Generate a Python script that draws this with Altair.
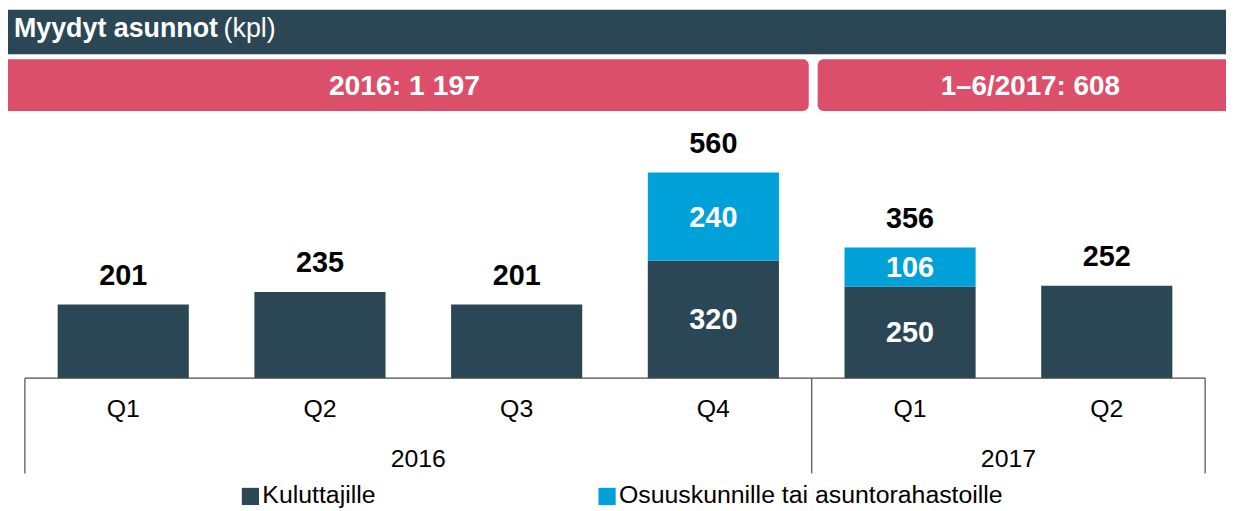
import altair as alt
import pandas as pd

# ---- data ----
quarters = ["Q1", "Q2", "Q3", "Q4", "Q1", "Q2"]
years = ["2016", "2016", "2016", "2016", "2017", "2017"]
kuluttajille = [201, 235, 201, 320, 250, 252]
osuuskunnille = [0, 0, 0, 240, 106, 0]
series_names = ["Kuluttajille", "Osuuskunnille tai asuntorahastoille"]
year_groups = ["2016", "2017"]
year_bounds = [0, 4, 6]
title_bold = "Myydyt asunnot"
title_unit = "(kpl)"
banner_texts = ["2016: 1 197", "1–6/2017: 608"]

DARK = "#2b4756"
CYAN = "#00a0d9"
PINK = "#dc4f6b"
FONT = "Liberation Sans"

W, H = 1226, 503

# ---- tables ----
rows = []
for i, (k, o) in enumerate(zip(kuluttajille, osuuskunnille)):
    rows.append({"i0": i + 1 / 6, "i1": i + 5 / 6, "ic": i + 0.5,
                 "series": series_names[0], "start": 0, "end": k,
                 "val": k, "mid": k / 2, "stacked": o > 0})
    if o > 0:
        rows.append({"i0": i + 1 / 6, "i1": i + 5 / 6, "ic": i + 0.5,
                     "series": series_names[1], "start": k, "end": k + o,
                     "val": o, "mid": k + o / 2, "stacked": True})
seg = pd.DataFrame(rows)

tot = pd.DataFrame({
    "ic": [i + 0.5 for i in range(len(quarters))],
    "total": [k + o for k, o in zip(kuluttajille, osuuskunnille)],
    "q": quarters,
})

yrs = pd.DataFrame({
    "year": year_groups,
    "xc": [(year_bounds[j] + year_bounds[j + 1]) / 2 for j in range(len(year_groups))],
})
bounds = pd.DataFrame({"b": year_bounds, "zero": [0] * len(year_bounds)})
axis_df = pd.DataFrame({"a": [year_bounds[0]], "b": [year_bounds[-1]], "zero": [0]})

xs = alt.Scale(domain=[0, 6], range=[17, 1205])
ys = alt.Scale(domain=[0, 560], range=[371, 164])
cs = alt.Scale(domain=series_names, range=[DARK, CYAN])

one = pd.DataFrame({"d": [0]})

title_bar = alt.Chart(one).mark_rect(color=DARK).encode(
    x=alt.value(0), x2=alt.value(W), y=alt.value(0), y2=alt.value(45))
title1 = alt.Chart(one).mark_text(
    text=title_bold, font=FONT, fontSize=27, fontWeight="bold", color="white",
    align="left", baseline="alphabetic").encode(x=alt.value(6), y=alt.value(28))
title2 = alt.Chart(one).mark_text(
    text=title_unit, font=FONT, fontSize=27, color="white",
    align="left", baseline="alphabetic").encode(x=alt.value(217), y=alt.value(28))

ban1 = alt.Chart(one).mark_rect(color=PINK, cornerRadius=6).encode(
    x=alt.value(-10), x2=alt.value(806), y=alt.value(50), y2=alt.value(102))
ban2 = alt.Chart(one).mark_rect(color=PINK, cornerRadius=6).encode(
    x=alt.value(815), x2=alt.value(W + 10), y=alt.value(50), y2=alt.value(102))
bt1 = alt.Chart(one).mark_text(
    text=banner_texts[0], font=FONT, fontSize=28.5, fontWeight="bold", color="white",
    align="center", baseline="alphabetic").encode(x=alt.value(399), y=alt.value(86))
bt2 = alt.Chart(one).mark_text(
    text=banner_texts[1], font=FONT, fontSize=28, fontWeight="bold", color="white",
    align="center", baseline="alphabetic").encode(x=alt.value(1029), y=alt.value(86))

bars = alt.Chart(seg).mark_rect().encode(
    x=alt.X("i0:Q", scale=xs, axis=None), x2="i1:Q",
    y=alt.Y("start:Q", scale=ys, axis=None), y2="end:Q",
    color=alt.Color("series:N", scale=cs, legend=None))

seg_labels = alt.Chart(seg).transform_filter("datum.stacked").mark_text(
    font=FONT, fontSize=29, fontWeight="bold", color="white",
    align="center", baseline="middle", dy=1).encode(
    x=alt.X("ic:Q", scale=xs), y=alt.Y("mid:Q", scale=ys), text="val:Q")

tot_labels = alt.Chart(tot).mark_text(
    font=FONT, fontSize=29, fontWeight="bold", color="black",
    align="center", baseline="alphabetic", dy=-20).encode(
    x=alt.X("ic:Q", scale=xs), y=alt.Y("total:Q", scale=ys), text="total:Q")

axis_line = alt.Chart(axis_df).mark_rule(color="#4d4d4d", strokeWidth=1.2).encode(
    x=alt.X("a:Q", scale=xs), x2="b:Q", y=alt.Y("zero:Q", scale=ys))
vlines = alt.Chart(bounds).mark_rule(color="#4d4d4d", strokeWidth=1.2).encode(
    x=alt.X("b:Q", scale=xs), y=alt.Y("zero:Q", scale=ys), y2=alt.value(467))

q_labels = alt.Chart(tot).mark_text(
    font=FONT, fontSize=25, color="black", align="center", baseline="alphabetic").encode(
    x=alt.X("ic:Q", scale=xs), y=alt.value(410), text="q:N")
y_labels = alt.Chart(yrs).mark_text(
    font=FONT, fontSize=25, color="black", align="center", baseline="alphabetic").encode(
    x=alt.X("xc:Q", scale=xs), y=alt.value(460), text="year:N")

leg_sq1 = alt.Chart(one).mark_square(size=300, color=DARK, opacity=1).encode(
    x=alt.value(244), y=alt.value(490))
leg_t1 = alt.Chart(one).mark_text(
    text=series_names[0], font=FONT, fontSize=25, color="black",
    align="left", baseline="alphabetic").encode(x=alt.value(256), y=alt.value(497))
leg_sq2 = alt.Chart(one).mark_square(size=300, color=CYAN, opacity=1).encode(
    x=alt.value(603), y=alt.value(490))
leg_t2 = alt.Chart(one).mark_text(
    text=series_names[1], font=FONT, fontSize=25, color="black",
    align="left", baseline="alphabetic").encode(x=alt.value(615), y=alt.value(497))

chart = alt.layer(
    title_bar, title1, title2, ban1, ban2, bt1, bt2,
    bars, seg_labels, tot_labels, axis_line, vlines, q_labels, y_labels,
    leg_sq1, leg_t1, leg_sq2, leg_t2,
).properties(
    width=W, height=H, autosize=alt.AutoSizeParams(type="none"), padding=0
).configure_view(stroke=None)

chart.save("out.html", embed_options={"renderer": "svg", "actions": False})
